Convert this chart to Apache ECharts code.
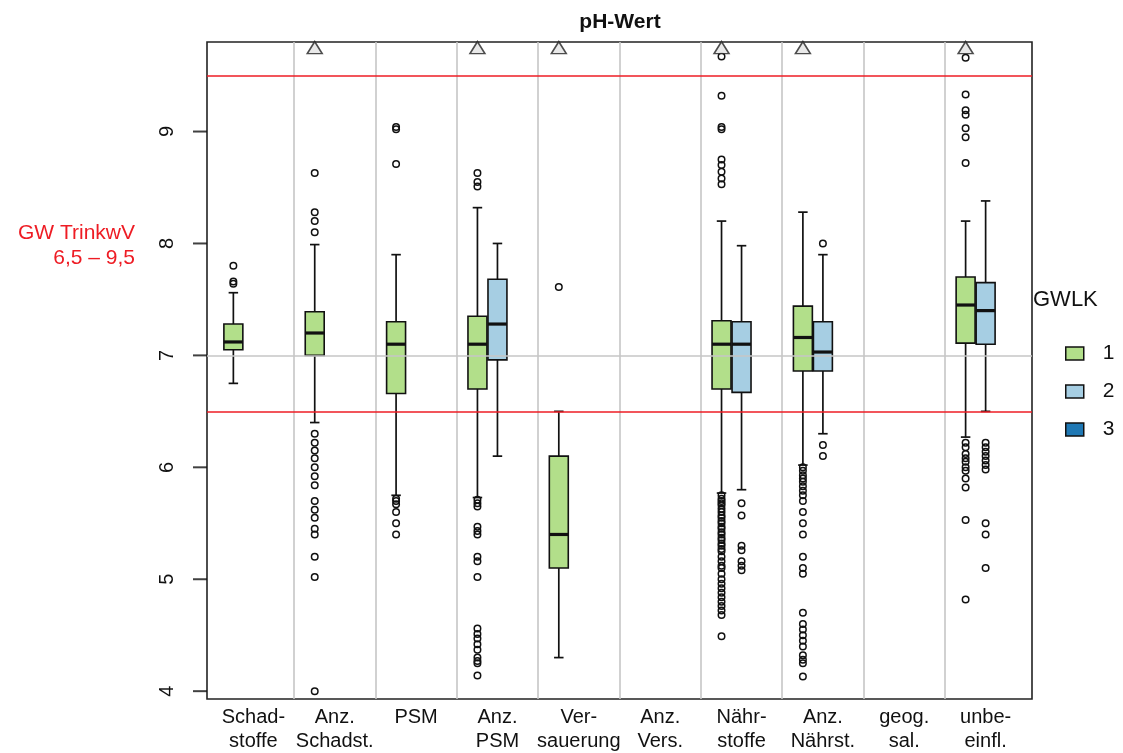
<!DOCTYPE html>
<html>
<head>
<meta charset="utf-8">
<script src="https://cdn.jsdelivr.net/npm/echarts@6/dist/echarts.min.js"></script>
<style>
  html, body { margin: 0; padding: 0; background: #fff; }
  #chart { width: 1123px; height: 753px; }
</style>
</head>
<body>
<div id="chart"></div>
<script>
// Land-use categories on the x axis (two-line labels)
const categories = [
  'Schad-\nstoffe', 'Anz.\nSchadst.', 'PSM', 'Anz.\nPSM', 'Ver-\nsauerung',
  'Anz.\nVers.', 'Nähr-\nstoffe', 'Anz.\nNährst.', 'geog.\nsal.', 'unbe-\neinfl.'
];
// Groundwater body classes (GWLK)
const groups = ['1', '2', '3'];
const groupColors = ['#b2df8a', '#a6cee3', '#1f78b4'];

// y-axis ticks and guideline values
const yTicks = [4, 5, 6, 7, 8, 9];
const limitValues = [6.5, 9.5];
const referenceValue = 7;

// Box statistics per category: [lower whisker, Q1, median, Q3, upper whisker]
const gwlk1Boxes = [
  [6.75, 7.05, 7.12, 7.28, 7.56],
  [6.40, 7.00, 7.20, 7.39, 7.99],
  [5.75, 6.66, 7.10, 7.30, 7.90],
  [5.73, 6.70, 7.10, 7.35, 8.32],
  [4.30, 5.10, 5.40, 6.10, 6.50],
  null,
  [5.77, 6.70, 7.10, 7.31, 8.20],
  [6.02, 6.86, 7.16, 7.44, 8.28],
  null,
  [6.27, 7.11, 7.45, 7.70, 8.20]
];
const gwlk2Boxes = [
  null, null, null,
  [6.10, 6.96, 7.28, 7.68, 8.00],
  null, null,
  [5.80, 6.67, 7.10, 7.30, 7.98],
  [6.30, 6.86, 7.03, 7.30, 7.90],
  null,
  [6.50, 7.10, 7.40, 7.65, 8.38]
];
const gwlk3Boxes = [null, null, null, null, null, null, null, null, null, null];

// Outliers per category
const gwlk1Outliers = [
  [7.80, 7.66, 7.64],
  [8.63, 8.28, 8.20, 8.10, 6.30, 6.22, 6.15, 6.08, 6.00, 5.92, 5.84, 5.70, 5.62, 5.55, 5.45, 5.40, 5.20, 5.02, 4.00],
  [9.04, 9.02, 8.71, 5.72, 5.70, 5.67, 5.60, 5.50, 5.40],
  [8.63, 8.55, 8.51, 5.71, 5.68, 5.65, 5.47, 5.43, 5.40, 5.20, 5.16, 5.02, 4.56, 4.51, 4.47, 4.42, 4.37, 4.30, 4.27, 4.25, 4.14],
  [7.61],
  [],
  [9.67, 9.32, 9.04, 9.02, 8.75, 8.70, 8.64, 8.58, 8.53,
   5.75, 5.72, 5.70, 5.68, 5.66, 5.63, 5.60, 5.57, 5.55, 5.52, 5.50, 5.47, 5.45, 5.42, 5.40,
   5.37, 5.35, 5.32, 5.30, 5.27, 5.25, 5.20, 5.16, 5.12, 5.10, 5.05, 5.00, 4.96, 4.92, 4.88,
   4.84, 4.80, 4.76, 4.72, 4.68, 4.49],
  [6.00, 5.97, 5.93, 5.90, 5.87, 5.83, 5.79, 5.75, 5.70, 5.60, 5.50, 5.40, 5.20, 5.10, 5.05,
   4.70, 4.60, 4.55, 4.50, 4.45, 4.40, 4.32, 4.28, 4.25, 4.13],
  [],
  [9.66, 9.33, 9.19, 9.15, 9.03, 8.95, 8.72, 6.22, 6.18, 6.12, 6.08, 6.05, 6.00, 5.97, 5.90, 5.82, 5.53, 4.82]
];
const gwlk2Outliers = [
  [], [], [], [], [], [],
  [5.68, 5.57, 5.30, 5.26, 5.16, 5.12, 5.08],
  [8.00, 6.20, 6.10],
  [],
  [6.22, 6.18, 6.14, 6.10, 6.06, 6.02, 5.98, 5.50, 5.40, 5.10]
];
const gwlk3Outliers = [[], [], [], [], [], [], [], [], [], []];

// Categories whose GWLK 1 values extend above the shown range
const aboveRangeCategories = [1, 3, 4, 6, 7, 9];
const aboveRangeMarker = 9.75;

// Axis extents
const X_MIN = -0.57, X_MAX = 9.57;
const Y_MIN = 3.93, Y_MAX = 9.8;

// Box layout within a category slot
const slotOffsets = [-0.246, 0, 0.246];
const BOX_WIDTH = 0.233;

const boxSets = [gwlk1Boxes, gwlk2Boxes, gwlk3Boxes];
const outlierSets = [gwlk1Outliers, gwlk2Outliers, gwlk3Outliers];
const FONT = 'Liberation Sans, Arial, sans-serif';

function renderBox(params, api) {
  const x = api.value(0);
  const lo = api.coord([x, api.value(1)]);
  const q1 = api.coord([x, api.value(2)]);
  const md = api.coord([x, api.value(3)]);
  const q3 = api.coord([x, api.value(4)]);
  const hi = api.coord([x, api.value(5)]);
  const w = api.size([BOX_WIDTH, 0])[0];
  const cap = w / 4;
  const cx = lo[0];
  const stroke = { stroke: '#111', lineWidth: 1.7 };
  return {
    type: 'group',
    children: [
      { type: 'line', shape: { x1: cx, y1: lo[1], x2: cx, y2: q1[1] }, style: stroke },
      { type: 'line', shape: { x1: cx, y1: q3[1], x2: cx, y2: hi[1] }, style: stroke },
      { type: 'line', shape: { x1: cx - cap, y1: lo[1], x2: cx + cap, y2: lo[1] }, style: stroke },
      { type: 'line', shape: { x1: cx - cap, y1: hi[1], x2: cx + cap, y2: hi[1] }, style: stroke },
      {
        type: 'rect',
        shape: { x: cx - w / 2, y: q3[1], width: w, height: q1[1] - q3[1] },
        style: { fill: api.visual('color'), stroke: '#111', lineWidth: 1.6 }
      },
      { type: 'line', shape: { x1: cx - w / 2, y1: md[1], x2: cx + w / 2, y2: md[1] }, style: { stroke: '#111', lineWidth: 3.2 } }
    ]
  };
}

const series = [];

// Grey reference lines: category separators and pH 7
series.push({
  type: 'line', data: [], silent: true, z: 1,
  markLine: {
    silent: true, symbol: 'none', animation: false,
    label: { show: false },
    lineStyle: { color: '#c6c6c6', width: 1.6, type: 'solid' },
    data: categories.slice(1).map((c, i) => ({ xAxis: i + 0.5 }))
      .concat([{ yAxis: referenceValue }])
  }
});

// Red drinking-water limits
series.push({
  type: 'line', data: [], silent: true, z: 2,
  markLine: {
    silent: true, symbol: 'none', animation: false,
    label: { show: false },
    lineStyle: { color: '#ee1c24', width: 1.7, type: 'solid' },
    data: limitValues.map(v => ({ yAxis: v }))
  }
});

groups.forEach((g, gi) => {
  const boxData = [];
  boxSets[gi].forEach((b, ci) => {
    if (b) boxData.push([ci + slotOffsets[gi]].concat(b));
  });
  series.push({
    name: g,
    type: 'custom',
    z: 3,
    itemStyle: { color: groupColors[gi] },
    renderItem: renderBox,
    encode: { x: 0, y: [1, 2, 3, 4, 5] },
    data: boxData,
    animation: false,
    silent: true
  });
  const pts = [];
  outlierSets[gi].forEach((list, ci) => {
    list.forEach(v => pts.push([ci + slotOffsets[gi], v]));
  });
  series.push({
    type: 'scatter',
    z: 4,
    symbol: 'circle',
    symbolSize: 6.5,
    itemStyle: { color: 'rgba(255,255,255,0)', borderColor: '#111', borderWidth: 1.5, opacity: 1 },
    data: pts,
    animation: false,
    silent: true
  });
});

// Markers for values above the plotted range
series.push({
  type: 'scatter',
  z: 5,
  symbol: 'triangle',
  symbolSize: [15, 12],
  itemStyle: { color: '#e4e4e4', borderColor: '#222', borderWidth: 1.5 },
  data: aboveRangeCategories.map(ci => [ci + slotOffsets[0], aboveRangeMarker]),
  animation: false,
  silent: true
});

// Outward tick marks on the left frame edge
series.push({
  type: 'scatter',
  z: 6,
  clip: false,
  symbol: 'rect',
  symbolSize: [14, 2],
  symbolOffset: [-7, 0],
  itemStyle: { color: '#111' },
  data: yTicks.map(v => [X_MIN, v]),
  animation: false,
  silent: true
});

const chart = echarts.init(document.getElementById('chart'), null, { renderer: 'canvas' });
chart.setOption({
  animation: false,
  backgroundColor: '#fff',
  textStyle: { fontFamily: FONT },
  grid: {
    left: 207, right: 91, top: 42, bottom: 50,
    show: true, borderColor: '#222', borderWidth: 1.6, backgroundColor: 'transparent'
  },
  xAxis: {
    type: 'value',
    min: X_MIN, max: X_MAX,
    splitLine: { show: false },
    axisLine: { show: false },
    axisTick: { show: false },
    axisLabel: {
      customValues: categories.map((c, i) => i),
      formatter: v => categories[Math.round(v)],
      color: '#111', fontSize: 20, lineHeight: 24, margin: 6,
      align: 'center', verticalAlign: 'top'
    }
  },
  yAxis: {
    type: 'value',
    min: Y_MIN, max: Y_MAX,
    splitLine: { show: false },
    axisLine: { show: false },
    axisTick: { show: false },
    axisLabel: {
      customValues: yTicks,
      rotate: 90, color: '#111', fontSize: 20, margin: 30,
      align: 'center', verticalAlign: 'bottom'
    }
  },
  legend: {
    orient: 'vertical',
    left: 1060, top: 338,
    itemWidth: 18, itemHeight: 13, itemGap: 17,
    icon: 'rect',
    data: groups,
    itemStyle: { borderColor: '#111', borderWidth: 1.5 },
    textStyle: { fontSize: 21, color: '#111', padding: [0, 0, 0, 14] },
    selectedMode: false
  },
  graphic: [
    {
      type: 'text', x: 620, y: 22,
      style: { text: 'pH-Wert', font: 'bold 21px ' + FONT, fill: '#111', align: 'center', verticalAlign: 'middle' }
    },
    {
      type: 'text', x: 1033, y: 300,
      style: { text: 'GWLK', font: '22px ' + FONT, fill: '#111', align: 'left', verticalAlign: 'middle' }
    },
    {
      type: 'text', x: 135, y: 246,
      style: {
        text: 'GW TrinkwV\n6,5 – 9,5', font: '21px ' + FONT,
        fill: '#ee1c24', align: 'right', verticalAlign: 'middle', lineHeight: 25
      }
    }
  ],
  series: series
});
</script>
</body>
</html>
